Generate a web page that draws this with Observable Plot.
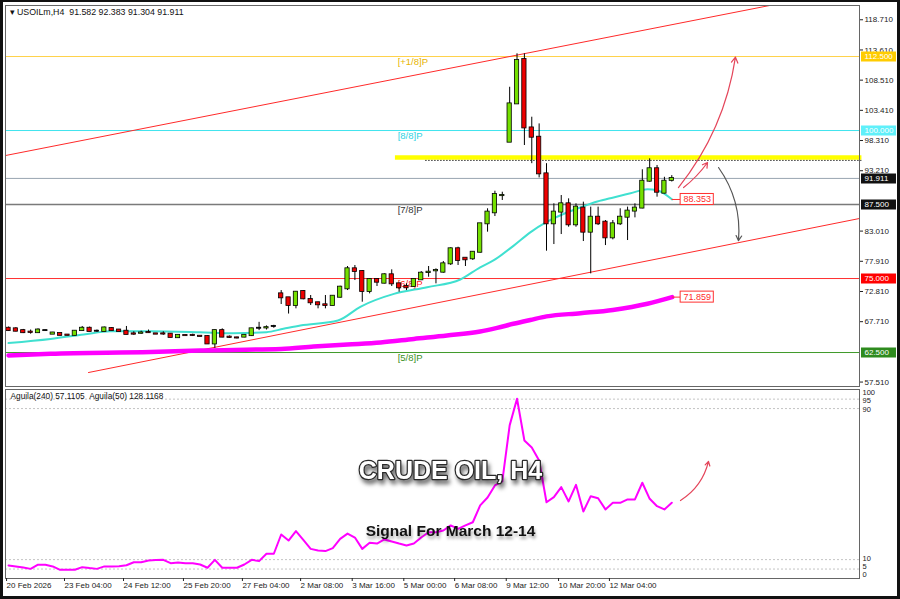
<!DOCTYPE html>
<html>
<head>
<meta charset="utf-8">
<script src="https://cdn.jsdelivr.net/npm/d3@7"></script>
<script src="https://cdn.jsdelivr.net/npm/@observablehq/plot@0.6"></script>
<style>
html,body{margin:0;padding:0;background:#fff;}
#wrap{position:relative;width:900px;height:599px;overflow:hidden;background:#fff;}
#top{position:absolute;left:0;top:0;}
#bot{position:absolute;left:0;top:388px;}
#border{position:absolute;left:0;top:0;width:900px;height:599px;box-sizing:border-box;border:3px solid #111;border-top-width:2px;pointer-events:none;}
</style>
</head>
<body>
<div id="wrap"><div id="top"></div><div id="bot"></div><div id="border"></div></div>
<script>
// ---------- DATA ----------
const headerText = "\u25BE USOILm,H4\u00a0\u00a091.582 92.383 91.304 91.911";
const opens = [
66.6,66.5,66.2,65.95,65.85,66.2,65.6,65.7,65.45,65.4,
66.2,66.6,66.1,66.05,66.55,66.3,66.1,65.65,65.75,65.9,
65.65,65.65,65.6,65.0,65.37,65.4,65.25,65.2,63.95,66.2,
65.1,64.97,65.1,65.35,66.6,66.65,66.9,72.41,71.74,70.44,
72.8,71.45,70.9,70.56,70.44,71.84,73.26,76.64,76.18,72.8,
74.83,74.21,75.63,74.1,73.65,73.65,74.78,76.0,76.3,76.07,
77.48,80.02,78.43,78.33,79.44,84.24,86.1,89.0,98.03,104.5,
111.99,100.44,98.87,92.68,84.24,86.22,87.62,84.07,86.9,82.83,
85.36,84.52,81.87,84.24,85.36,86.39,86.9,91.44,93.54,89.42,
91.582];
const highs = [
66.8,66.7,66.4,66.3,66.5,66.25,65.9,65.8,65.5,66.2,
66.9,66.8,66.3,66.8,66.7,66.4,66.9,66.0,66.1,66.3,
65.7,66.0,65.7,65.5,65.45,65.6,65.3,65.3,66.3,66.5,
65.3,65.1,65.5,66.6,67.6,67.0,67.1,72.97,71.8,72.8,
72.97,72.13,71.0,72.13,72.1,73.7,77.03,77.2,76.35,74.95,
74.95,75.8,76.47,74.2,74.1,74.95,76.18,77.03,76.64,77.87,
80.18,80.29,78.43,79.56,84.3,86.78,89.75,89.58,107.31,112.96,
112.96,102.25,101.12,94.4,87.62,89.02,88.46,87.62,87.9,87.06,
87.06,84.8,84.8,86.78,87.06,87.62,93.37,95.22,94.1,92.1,
92.383];
const lows = [
66.1,66.0,65.7,65.6,65.75,66.15,65.55,65.3,65.35,65.3,
66.1,66.0,65.9,66.0,66.15,65.95,65.5,65.4,65.6,65.75,
65.55,65.4,65.0,64.9,65.3,65.2,65.15,63.9,63.2,65.0,
64.9,64.8,65.0,65.2,66.2,66.3,66.6,70.61,69.0,69.88,
71.4,70.44,69.88,69.88,70.4,71.7,72.97,74.66,71.0,72.41,
73.65,74.1,73.65,72.69,72.97,73.5,74.66,75.22,74.1,75.9,
77.2,77.2,77.03,78.05,79.3,82.83,85.47,88.18,98.03,104.5,
97.47,94.4,92.0,79.62,80.74,82.43,83.67,83.67,81.25,75.79,
83.95,80.57,81.53,83.95,81.42,85.25,86.78,91.27,88.74,89.3,
91.304];
const closes = [
66.2,66.1,65.85,65.9,66.3,66.2,65.8,65.4,65.4,66.1,
66.6,66.05,66.1,66.65,66.2,66.05,65.55,65.6,65.8,65.85,
65.6,65.62,65.05,65.4,65.35,65.37,65.22,63.95,66.2,65.1,
65.05,64.95,65.4,66.5,66.6,66.7,66.9,71.74,70.44,72.69,
71.57,70.9,70.56,70.44,72.01,73.54,76.64,76.18,72.8,74.83,
74.38,75.63,74.1,73.43,73.43,74.83,75.9,76.07,76.35,77.48,
80.02,78.05,78.16,79.44,84.24,86.22,89.19,89.02,104.5,111.82,
100.44,98.87,92.68,84.24,86.22,87.62,84.07,87.06,82.83,85.36,
84.24,81.87,84.24,85.36,86.39,86.9,91.44,93.54,89.58,91.44,
91.911];

// fast MA (cyan) read points: bar index / value
const maFastIdx = [0,5.7,10.2,13.8,19.3,26,30.5,35,37.3,39.6,44.7,47.8,52.3,56.8,61.3,64,65.8,68.6,70.8,73.1,75.3,77.6,79.9,82.1,84.4,86.7,88.0,90.05];
const maFastVal = [64.1,64.8,65.54,66.1,66.1,65.93,65.76,65.93,66.5,67.06,67.9,70.27,72.41,73.54,74.83,76.9,78.05,80.6,82.8,84.6,85.9,87.0,88.0,88.7,89.4,90.1,89.9,88.35];
// slow MA (magenta)
const maSlowIdx = [0,5.7,19.3,26,37,41.4,46,50.5,55,59.5,64,66.3,68.5,70.8,73,77.6,82,86.7,90.05];
const maSlowVal = [62.0,62.3,62.6,62.85,63.1,63.5,63.85,64.2,64.8,65.37,66.05,66.67,67.35,68.0,68.6,69.14,69.7,70.73,71.859];
const maLabelVals = [88.353, 71.859];

// channel lines (bar index / price)
const upperChannelIdx = [-0.4, 115.47];
const upperChannelVal = [95.78, 124.1];
const lowerChannelIdx = [10.85, 115.47];
const lowerChannelVal = [59.12, 85.14];

// Murrey levels
const levelVals   = [112.5, 100, 87.5, 75, 62.5];
const levelNames  = ["[+1/8]P", "[8/8]P", "[7/8]P", "[6/8]P", "[5/8]P"];
const levelLine   = ["#ffd24a", "#40e4ee", "#7a7a7a", "#ff3030", "#3f9a2a"];
const levelText   = ["#e7b400", "#2fd2e2", "#333333", "#ff2020", "#3a8f25"];
const levelBox    = ["#ffcc00", "#5ff0fa", "#111111", "#ff0000", "#2e8b1e"];
const currentPrice = 91.911;
const resistanceVal = 95.45;
const resistanceDotted = 94.95;
const resistanceStart = 52.5;
const dottedStart = 56.6;

// right axis ticks
const yTicks = [118.71,113.61,108.51,103.41,98.31,93.21,88.11,83.01,77.91,72.81,67.71,62.61,57.51];

// lower indicator panel
const aguilaVals = [
6.9,6.4,5.8,5.1,7.3,7.3,6.4,4.6,4.6,4.6,
6.0,5.5,5.1,6.4,6.4,6.5,7.0,8.6,8.6,9.5,
9.8,9.9,8.1,8.5,8.1,8.1,7.4,5.7,9.9,5.7,
5.7,5.7,7.4,9.9,9.2,13.1,13.1,23.3,20.1,25.1,
20.5,15.7,14.8,14.5,16.1,21.0,23.8,21.7,15.7,18.9,
18.5,20.7,19.6,18.5,17.5,18.5,21.7,24.5,24.5,25.4,
28.1,26.3,28.1,29.8,38.7,42.9,49.3,51.4,81.1,95.2,
73.1,69.4,62.5,40.4,43.1,48.4,40.8,49.6,35.5,43.6,
42.5,36.6,40.1,40.1,41.9,41.9,50.7,42.2,38.3,36.6,
40.1];
const aguilaLabel = "Aguila(240) 57.1105\u00a0\u00a0Aguila(50) 128.1168";
const lowerLevels = [95, 90, 10, 5];
const dateTickPos = [-0.4,7.46,15.47,23.6,31.6,39.5,46.5,53.5,60.4,67.4,74.5,81.4];
const dateTickLabels = ["20 Feb 2026","23 Feb 04:00","24 Feb 12:00","25 Feb 20:00","27 Feb 04:00","2 Mar 08:00","3 Mar 16:00","5 Mar 00:00","6 Mar 08:00","9 Mar 12:00","10 Mar 20:00","12 Mar 04:00"];
const titleText = "CRUDE OIL, H4";
const subtitleText = "Signal For March 12-14";

// annotation arrows (bar index / price)
const arrowUpLong  = [{x1: 90.9, y1: 90.37, x2: 98.64, y2: 112.4}];
const arrowUpShort = [{x1: 91.6, y1: 90.37, x2: 94.85, y2: 94.6}];
const arrowDown    = [{x1: 96.34, y1: 93.75, x2: 99.05, y2: 81.4}];
const arrowLower   = [{x1: 91.18, y1: 41.3, x2: 94.98, y2: 62.0}];

// ---------- BUILD ----------
const FONT = "Liberation Sans, Arial, Helvetica, sans-serif";
const xDomain = [-0.41, 115.47];
const bull = "#74e000", bear = "#ee0000";
const candles = opens.map((o, i) => ({i, o, h: highs[i], l: lows[i], c: closes[i]}));
const maFast = maFastIdx.map((i, k) => ({i, v: maFastVal[k]}));
const maSlow = maSlowIdx.map((i, k) => ({i, v: maSlowVal[k]}));
const upperCh = upperChannelIdx.map((i, k) => ({i, v: upperChannelVal[k]}));
const lowerCh = lowerChannelIdx.map((i, k) => ({i, v: lowerChannelVal[k]}));
const levels = levelVals.map((v, k) => ({v, name: levelNames[k], line: levelLine[k], text: levelText[k], box: levelBox[k]}));
const boxes = levels.map(d => ({v: d.v, box: d.box})).concat([{v: currentPrice, box: "#111111"}]);
const maEnd = [{v: maLabelVals[0], end: maFastIdx[maFastIdx.length - 1]}, {v: maLabelVals[1], end: maSlowIdx[maSlowIdx.length - 1]}];
const aguila = aguilaVals.map((v, i) => ({i, v}));
const dateMap = new Map(dateTickPos.map((p, k) => [p, dateTickLabels[k]]));
// tick labels fully covered by a level box are not visible in the chart
const shownTicks = yTicks.filter(t => !boxes.some(b => Math.abs(b.v - t) < 0.9));

const boxX1 = 115.74, boxX2 = 120.49;

const main = Plot.plot({
  width: 900, height: 388,
  marginLeft: 5, marginRight: 41, marginTop: 5, marginBottom: 2,
  x: {domain: xDomain, axis: null},
  y: {domain: [56.76, 121.12], axis: null},
  color: {type: "identity"},
  style: {fontFamily: FONT, fontSize: "8px", background: "transparent", overflow: "visible"},
  marks: [
    Plot.ruleY(levels, {y: "v", stroke: "line", strokeWidth: d => d.v === 87.5 ? 1.5 : 1}),
    Plot.ruleY([currentPrice], {stroke: "#98a4b0", strokeWidth: 1}),
    Plot.ruleY([resistanceVal], {x1: resistanceStart, x2: 115.8, stroke: "#ffff00", strokeWidth: 4.5}),
    Plot.ruleY([resistanceDotted], {x1: dottedStart, x2: 115.8, stroke: "#333", strokeWidth: 1, strokeDasharray: "1.5,1.5"}),
    Plot.text(levels, {x: 52.8, y: "v", text: "name", fill: "text", textAnchor: "start", lineAnchor: "top", dy: 2, fontSize: 9.5}),
    Plot.line(upperCh, {x: "i", y: "v", stroke: "#ff2a2a", strokeWidth: 1, clip: true}),
    Plot.line(lowerCh, {x: "i", y: "v", stroke: "#ff2a2a", strokeWidth: 1, clip: true}),
    Plot.line(maSlow, {x: "i", y: "v", stroke: "#ff00ff", strokeWidth: 4.5, curve: "monotone-x"}),
    Plot.line(maFast, {x: "i", y: "v", stroke: "#40e0d0", strokeWidth: 2, curve: "monotone-x"}),
    Plot.ruleX(candles, {x: "i", y1: "l", y2: "h", stroke: "#000", strokeWidth: 1}),
    Plot.rect(candles, {x1: d => d.i - 0.29, x2: d => d.i + 0.29, y1: "o", y2: "c",
      fill: d => d.c > d.o ? bull : d.c < d.o ? bear : "#000",
      stroke: "#000", strokeWidth: 0.8, insetTop: -0.5, insetBottom: -0.5}),
    Plot.ruleY(maEnd, {y: "v", x1: "end", x2: 91.2, stroke: "#ff3030", strokeWidth: 1}),
    Plot.rect(maEnd, {x1: 91.2, x2: 95.7, y1: "v", y2: "v", insetTop: -5.5, insetBottom: -5.5, fill: "#fff", stroke: "#ff3030", strokeWidth: 1}),
    Plot.text(maEnd, {x: 93.45, y: "v", text: d => d3.format(".3f")(d.v), fill: "#ff2a2a", fontSize: 9}),
    Plot.frame({stroke: "#666"}),
    Plot.axisY(shownTicks, {anchor: "right", tickSize: 3, tickPadding: 2, tickFormat: d3.format(".3f"), fontSize: 8, color: "#222"}),
    Plot.ruleY(boxes, {y: "v", x1: boxX1, x2: boxX2, stroke: "box", strokeWidth: 10}),
    Plot.text(boxes, {x: boxX1, y: "v", text: d => d3.format(".3f")(d.v), fill: "#fff", textAnchor: "start", dx: 3, fontSize: 8}),
    Plot.text([headerText], {frameAnchor: "top-left", dx: 4, dy: 3, lineAnchor: "top", textAnchor: "start", fontSize: 8.8, fill: "#111"}),
    Plot.arrow(arrowUpLong, {x1: "x1", y1: "y1", x2: "x2", y2: "y2", bend: -15, stroke: "#e4455a", strokeWidth: 1.2, headLength: 8}),
    Plot.arrow(arrowUpShort, {x1: "x1", y1: "y1", x2: "x2", y2: "y2", bend: -8, stroke: "#e4455a", strokeWidth: 1.2, headLength: 7}),
    Plot.arrow(arrowDown, {x1: "x1", y1: "y1", x2: "x2", y2: "y2", bend: 20, stroke: "#555", strokeWidth: 1.2, headLength: 7})
  ]
});
document.getElementById("top").appendChild(main);

const lower = Plot.plot({
  width: 900, height: 211,
  marginLeft: 5, marginRight: 41, marginTop: 1, marginBottom: 21,
  x: {domain: xDomain, axis: null},
  y: {domain: [0, 100.1], axis: null},
  color: {type: "identity"},
  style: {fontFamily: FONT, fontSize: "8px", background: "transparent", overflow: "visible"},
  marks: [
    Plot.ruleY(lowerLevels, {stroke: "#c4c4c4", strokeDasharray: "2,2", strokeWidth: 1}),
    Plot.line(aguila, {x: "i", y: "v", stroke: "#ff00ff", strokeWidth: 2}),
    Plot.frame({stroke: "#666"}),
    Plot.axisY([95, 90], {anchor: "right", tickSize: 0, tickPadding: 3, dy: 1.5, fontSize: 7.5, color: "#222"}),
    Plot.axisY([10], {anchor: "right", tickSize: 0, tickPadding: 3, dy: -0.8, fontSize: 7.5, color: "#222"}),
    Plot.axisY([100], {anchor: "right", tickSize: 0, tickPadding: 3, dy: 3.3, fontSize: 7.5, color: "#222"}),
    Plot.axisY([5], {anchor: "right", tickSize: 0, tickPadding: 3, dy: -2.8, fontSize: 7.5, color: "#222"}),
    Plot.axisY([0], {anchor: "right", tickSize: 0, tickPadding: 3, dy: -4.2, fontSize: 7.5, color: "#222"}),
    Plot.axisX(dateTickPos, {anchor: "bottom", tickSize: 3, tickPadding: 1, textAnchor: "start", dx: 1,
      tickFormat: d => dateMap.get(d), fontSize: 8, color: "#222"}),
    Plot.text([aguilaLabel], {frameAnchor: "top-left", dx: 5, dy: 4, lineAnchor: "top", textAnchor: "start", fontSize: 8.3, fill: "#111"}),
    Plot.text([titleText], {x: 59.97, y: 56.7, text: d => d, fontSize: 25, fontWeight: "bold",
      fill: "#fff", stroke: "#2a2a2a", strokeWidth: 2.5, paintOrder: "stroke"}),
    Plot.text([subtitleText], {x: 59.97, y: 25.4, text: d => d, fontSize: 15.5, fontWeight: "bold", fill: "#111"}),
    Plot.arrow(arrowLower, {x1: "x1", y1: "y1", x2: "x2", y2: "y2", bend: -22, stroke: "#e4455a", strokeWidth: 1.2, headLength: 6})
  ]
});
document.getElementById("bot").appendChild(lower);

d3.select(lower).selectAll("text")
  .filter(function() { return this.textContent === titleText; })
  .style("filter", "drop-shadow(2px 4px 2px rgba(0,0,0,0.55))");
d3.select(lower).selectAll("text")
  .filter(function() { return this.textContent === subtitleText; })
  .style("filter", "drop-shadow(1px 3px 1.5px rgba(0,0,0,0.35))");
</script>
</body>
</html>
